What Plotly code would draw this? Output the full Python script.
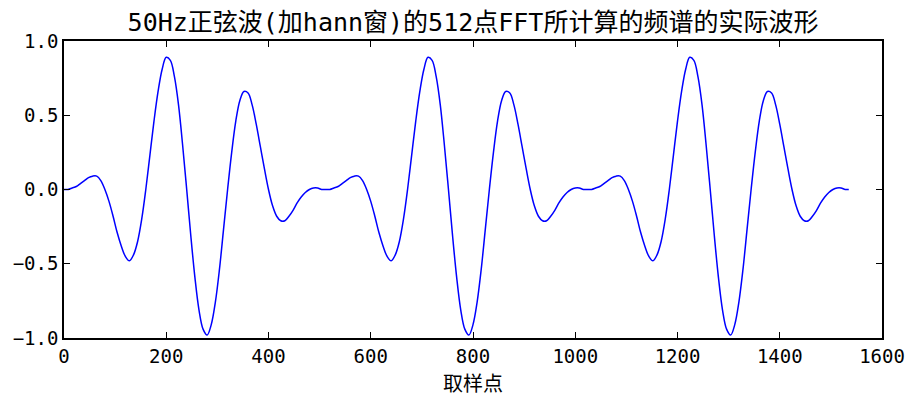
import plotly.graph_objects as go

# One 512-sample frame of the windowed 50Hz wave, read every 8 samples
frame_values = [
    0.00, 0.00, 0.01, 0.02, 0.04, 0.06, 0.08, 0.09, 0.09, 0.06,
    0.00, -0.08, -0.18, -0.29, -0.38, -0.45, -0.48, -0.44, -0.35, -0.20,
    0.00, 0.23, 0.46, 0.66, 0.81, 0.89, 0.87, 0.76, 0.57, 0.30,
    0.00, -0.31, -0.59, -0.81, -0.94, -0.98, -0.91, -0.76, -0.54, -0.27,
    0.00, 0.25, 0.46, 0.60, 0.66, 0.65, 0.57, 0.44, 0.29, 0.14,
    0.00, -0.11, -0.18, -0.21, -0.21, -0.18, -0.14, -0.09, -0.05, -0.02,
    0.00, 0.01, 0.01, 0.00,
]
n_frames = 3
frame_len = 512
step = 8
last_sample = 1535
last_value = 0.00

x_ticks = [0, 200, 400, 600, 800, 1000, 1200, 1400, 1600]
y_ticks = [-1.0, -0.5, 0.0, 0.5, 1.0]
title = "50Hz正弦波(加hann窗)的512点FFT所计算的频谱的实际波形"
x_title = "取样点"

xs = [f * frame_len + i * step for f in range(n_frames) for i in range(len(frame_values))] + [last_sample]
ys = frame_values * n_frames + [last_value]

font_family = "DejaVu Sans Mono, Noto Sans CJK SC, sans-serif"

fig = go.Figure(go.Scatter(
    x=xs, y=ys, mode="lines",
    line=dict(color="#0000ff", width=1.5, shape="spline", smoothing=1.0),
))

axis_common = dict(
    showgrid=False, zeroline=False, showline=True, linecolor="black", linewidth=1.5,
    mirror="ticks", ticks="inside", ticklen=6, tickwidth=1, tickcolor="black",
    tickfont=dict(family=font_family, size=19, color="black"),
    automargin=False,
)

fig.update_layout(
    width=909, height=396,
    margin=dict(l=64, r=27, t=41, b=58, autoexpand=False),
    paper_bgcolor="white", plot_bgcolor="white",
    showlegend=False,
    title=dict(text=title, xref="paper", x=0.5, xanchor="center",
               yref="container", y=1 - 22 / 396, yanchor="middle",
               font=dict(family=font_family, size=25, color="black"), automargin=False),
    xaxis=dict(range=[0, 1600], tickvals=x_ticks, ticktext=[str(v) for v in x_ticks],
               title=dict(text=x_title, font=dict(family=font_family, size=20, color="black"), standoff=11),
               **axis_common),
    yaxis=dict(range=[-1.0, 1.0], tickvals=y_ticks, tickformat=".1f", **axis_common),
)

fig.write_html("out.html", config={"displayModeBar": False},
               post_script="document.body.style.margin='0';document.body.style.overflow='hidden';")
